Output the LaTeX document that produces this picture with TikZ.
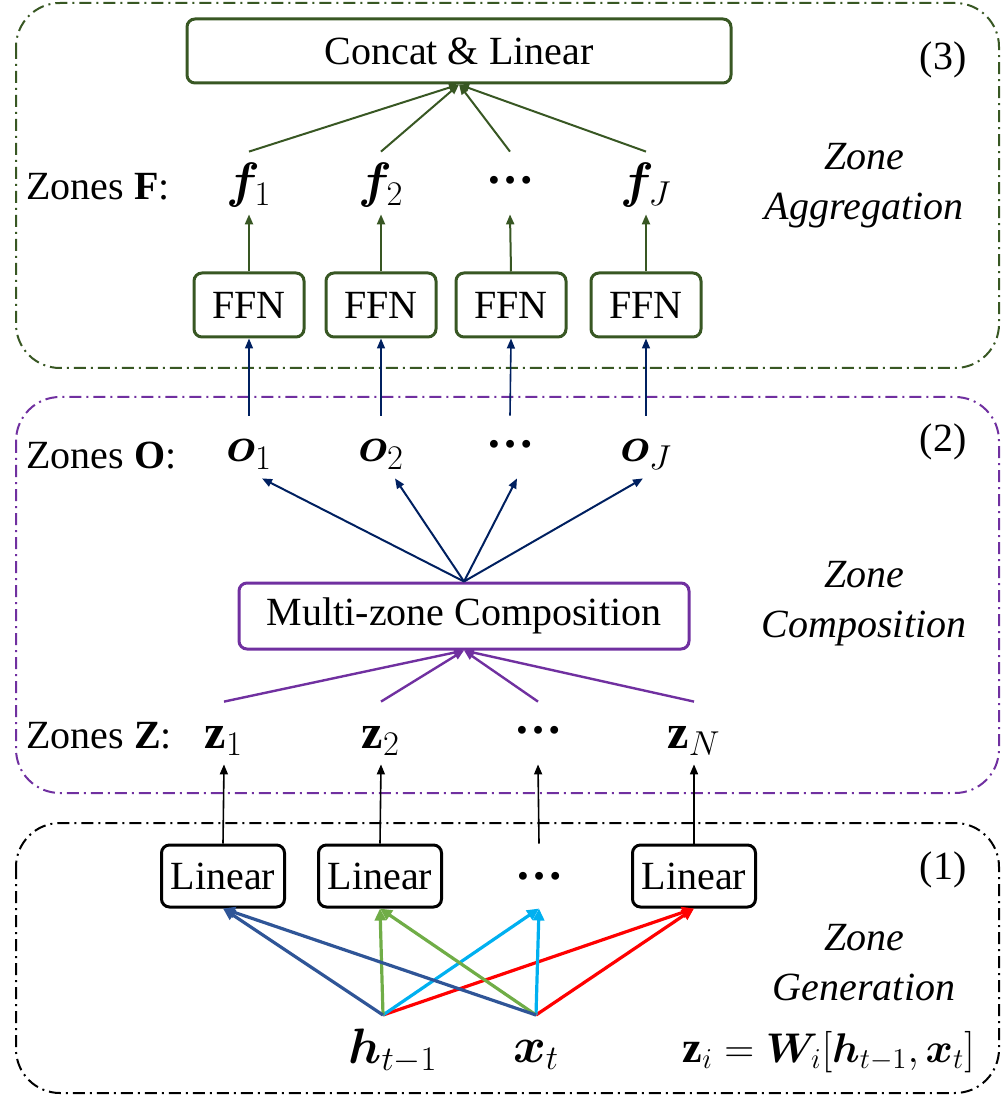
\documentclass[tikz,border=0pt]{standalone}
\usepackage{amsmath,amssymb,bm}
\usepackage{fontspec}
\setmainfont{Liberation Serif}
\usetikzlibrary{arrows.meta, calc}
\definecolor{aggGreen}{HTML}{385723}
\definecolor{compPurple}{HTML}{7030A0}
\definecolor{navyBlue}{HTML}{002060}
\definecolor{hBlue}{HTML}{2F5597}
\definecolor{hGreen}{HTML}{70AD47}
\definecolor{hCyan}{HTML}{00B0F0}
\definecolor{hRed}{HTML}{FF0000}
\newcommand{\zdots}{\textbf{\raisebox{0.3em}{…}}}

\begin{document}
\begin{tikzpicture}[
    x=0.5pt,
    y=-0.5pt,
    zonebox/.style={rounded corners=22pt, line width=1pt, dash pattern=on 6pt off 2.5pt on 1pt off 2.5pt},
    block/.style={rectangle, draw, rounded corners=4pt, line width=1.5pt, inner sep=0pt, font=\fontsize{20}{24}\selectfont},
    vec/.style={anchor=base, inner sep=3pt, text height=20pt, text depth=5pt, font=\fontsize{24}{28}\selectfont},
    rowlabel/.style={anchor=base west, inner sep=0pt, font=\fontsize{20}{24}\selectfont},
    zonename/.style={align=center, font=\fontsize{20}{25}\selectfont\itshape},
    stage/.style={font=\fontsize{20}{24}\selectfont},
    tip/.style={-{Triangle[length=5pt,width=4pt]}},
    mix/.style={line width=1.6pt, -{Triangle[length=6pt,width=5.5pt]}}
]
\useasboundingbox (0,0) rectangle (1003,1095);

% Zone frames
\draw[zonebox, aggGreen] (16,3) rectangle (999,368);
\draw[zonebox, compPurple] (16,397) rectangle (999,793);
\draw[zonebox, black] (16,823) rectangle (999,1093);

% (3) Zone Aggregation
\node[block, draw=aggGreen, minimum width=272pt, minimum height=32pt] (cat) at (459,51) {Concat \& Linear};
\node[stage] (s3) at (943,60) {(3)};
\node[zonename] (agg) at (864,186) {Zone\\Aggregation};
\node[rowlabel] (zf) at (26,200) {Zones $\mathbf{F}$:};
\node[vec] (f1) at (249,198) {$\bm{f}_1$};
\node[vec] (f2) at (381,198) {$\bm{f}_2$};
\node[vec] (f3) at (510,198) {\zdots};
\node[vec] (f4) at (646,198) {$\bm{f}_J$};
\foreach \i/\x in {1/249, 2/381, 3/511, 4/646}
    \node[block, draw=aggGreen, minimum width=55pt, minimum height=32pt] (ffn\i) at (\x,305) {FFN};

\foreach \i in {1,...,4} {
    \draw[aggGreen, line width=1pt, tip] (ffn\i.north) -- (f\i.south);
    \draw[aggGreen, line width=1pt, tip] (f\i.north) -- (cat.south);
}

% (2) Zone Composition
\node[stage] (s2) at (943,442) {(2)};
\node[zonename] (comp) at (864,604) {Zone\\Composition};
\node[rowlabel] (zo) at (26,468) {Zones $\mathbf{O}$:};
\node[vec] (o1) at (249,462) {$\bm{o}_1$};
\node[vec] (o2) at (381,462) {$\bm{o}_2$};
\node[vec] (o3) at (510,462) {\zdots};
\node[vec] (o4) at (646,462) {$\bm{o}_J$};
\node[block, draw=compPurple, minimum width=225pt, minimum height=33pt] (mzc) at (464,616) {Multi-zone Composition};
\node[rowlabel] (zz) at (26,748) {Zones $\mathbf{Z}$:};
\node[vec] (z1) at (224,748) {$\mathbf{z}_1$};
\node[vec] (z2) at (381,748) {$\mathbf{z}_2$};
\node[vec] (z3) at (538,748) {\zdots};
\node[vec] (z4) at (694,748) {$\mathbf{z}_N$};

\foreach \i in {1,...,4}
    \draw[navyBlue, line width=0.8pt, tip] (o\i.north) -- (ffn\i.south);
\foreach \i/\dx in {1/13, 2/14, 3/7, 4/-3}
    \draw[navyBlue, line width=1pt, tip] (mzc.north) -- ($(o\i.south)+(\dx,0)$);
\foreach \i in {1,...,4}
    \draw[compPurple, line width=1.2pt, tip] (z\i.north) -- (mzc.south);

% (1) Zone Generation
\node[stage] (s1) at (943,870) {(1)};
\node[zonename] (gen) at (864,963) {Zone\\Generation};
\node[block, minimum width=61.5pt, minimum height=31pt] (lin1) at (223,876) {Linear};
\node[block, minimum width=61.5pt, minimum height=31pt] (lin2) at (380,876) {Linear};
\node[block, draw=none, minimum width=40pt, minimum height=31pt, font=\fontsize{24}{28}\selectfont] (lin3) at (539,876) {\textbf{…}};
\node[block, minimum width=61.5pt, minimum height=31pt] (lin4) at (694,876) {Linear};

\foreach \i in {1,...,4}
    \draw[black, line width=0.8pt, tip] (lin\i.north) -- (z\i.south);

\node[anchor=base, inner sep=0pt, font=\fontsize{26}{30}\selectfont] (hlab) at (393,1063) {$\bm{h}_{t-1}$};
\node[anchor=base, inner sep=0pt, font=\fontsize{26}{30}\selectfont] (xlab) at (536,1062) {$\bm{x}_t$};
\node[anchor=base east, inner sep=0pt, font=\fontsize{22}{26}\selectfont] (eq) at (975,1062) {$\mathbf{z}_i=\bm{W}_i[\bm{h}_{t-1},\bm{x}_t]$};
\coordinate (hp) at (383,1015);
\coordinate (xp) at (536,1015);

\draw[mix, hRed] (hp) -- (lin4.south);
\draw[mix, hRed] (xp) -- (lin4.south);
\draw[mix, hCyan] (hp) -- (lin3.south);
\draw[mix, hCyan] (xp) -- (lin3.south);
\draw[mix, hGreen] (hp) -- (lin2.south);
\draw[mix, hGreen] (xp) -- (lin2.south);
\draw[mix, hBlue] (hp) -- (lin1.south);
\draw[mix, hBlue] (xp) -- (lin1.south);

\end{tikzpicture}
\end{document}
